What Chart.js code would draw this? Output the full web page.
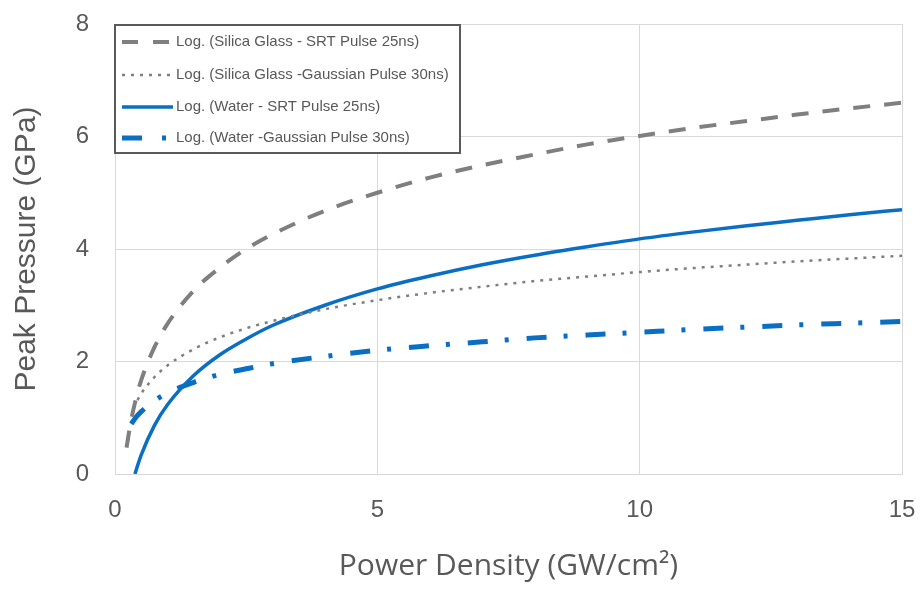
<!DOCTYPE html>
<html>
<head>
<meta charset="utf-8">
<script src="https://cdn.jsdelivr.net/npm/chart.js@4.4.1/dist/chart.umd.min.js"></script>
<style>
  html, body { margin: 0; padding: 0; background: #ffffff; }
  #wrap { width: 924px; height: 591px; position: relative; }
</style>
</head>
<body>
<div id="wrap"><canvas id="c" width="924" height="591"></canvas></div>
<script>
// ---- Data ----
const xTickValues = [0, 5, 10, 15];
const yTickValues = [0, 2, 4, 6, 8];

const seriesNames = [
  "Log. (Silica Glass - SRT Pulse 25ns)",
  "Log. (Silica Glass -Gaussian Pulse 30ns)",
  "Log. (Water - SRT Pulse 25ns)",
  "Log. (Water -Gaussian Pulse 30ns)"
];

const silicaSrtX = [0.22, 0.3, 0.4, 0.5, 0.75, 1, 1.5, 2, 2.5, 3, 4, 5, 6, 7, 8, 9, 10, 11, 12, 13, 14, 15];
const silicaSrtY = [0.47, 0.92, 1.34, 1.67, 2.25, 2.67, 3.26, 3.67, 4.00, 4.26, 4.68, 5.00, 5.27, 5.49, 5.68, 5.86, 6.01, 6.15, 6.27, 6.39, 6.50, 6.60];

const silicaGaussX = [0.35, 0.5, 0.75, 1, 1.5, 2, 2.5, 3, 4, 5, 6, 7, 8, 9, 10, 11, 12, 13, 14, 15];
const silicaGaussY = [1.17, 1.43, 1.72, 1.93, 2.22, 2.43, 2.59, 2.72, 2.93, 3.09, 3.22, 3.33, 3.43, 3.51, 3.59, 3.66, 3.72, 3.78, 3.83, 3.88];

const waterSrtX = [0.38, 0.4, 0.5, 0.75, 1, 1.5, 2, 2.5, 3, 4, 5, 6, 7, 8, 9, 10, 11, 12, 13, 14, 15];
const waterSrtY = [0.00, 0.06, 0.34, 0.86, 1.23, 1.75, 2.12, 2.40, 2.64, 3.00, 3.29, 3.52, 3.72, 3.89, 4.04, 4.18, 4.30, 4.41, 4.51, 4.61, 4.70];

const waterGaussX = [0.31, 0.4, 0.5, 0.75, 1, 1.5, 2, 2.5, 3, 4, 5, 6, 7, 8, 9, 10, 11, 12, 13, 14, 15];
const waterGaussY = [0.89, 1.01, 1.11, 1.30, 1.44, 1.63, 1.77, 1.87, 1.96, 2.09, 2.20, 2.28, 2.35, 2.42, 2.47, 2.52, 2.57, 2.61, 2.65, 2.68, 2.71];

// ---- Build points ----
function pts(xs, ys) { return xs.map((x, i) => ({ x: x, y: ys[i] })); }

const GRAY = '#7f7f7f';
const BLUE = '#0a6fc2';
const TXT = '#595959';

const datasets = [
  { label: seriesNames[0], data: pts(silicaSrtX, silicaSrtY), borderColor: GRAY, borderWidth: 4, borderDash: [17, 14], legendDash: [16, 15], legendWidth: 4 },
  { label: seriesNames[1], data: pts(silicaGaussX, silicaGaussY), borderColor: GRAY, borderWidth: 2.5, borderDash: [3, 6], legendDash: [3, 6], legendWidth: 2.5 },
  { label: seriesNames[2], data: pts(waterSrtX, waterSrtY), borderColor: BLUE, borderWidth: 3.5, borderDash: [], legendDash: [], legendWidth: 3.5 },
  { label: seriesNames[3], data: pts(waterGaussX, waterGaussY), borderColor: BLUE, borderWidth: 5, borderDash: [20, 17, 4, 18], legendDash: [20, 20, 4, 20], legendWidth: 5 }
].map(d => Object.assign(d, {
  showLine: true, pointRadius: 0, pointHoverRadius: 0, fill: false,
  cubicInterpolationMode: 'monotone', borderCapStyle: 'butt'
}));

const legendTextWidths = [247, 277, 209, 237];

const boxLegend = {
  id: 'boxLegend',
  afterDatasetsDraw(chart) {
    const ctx = chart.ctx;
    const bx = 115, by = 25, bw = 345, bh = 128;
    ctx.save();
    ctx.fillStyle = '#ffffff';
    ctx.fillRect(bx, by, bw, bh);
    ctx.strokeStyle = '#5a5a5a';
    ctx.lineWidth = 2;
    ctx.strokeRect(bx, by, bw, bh);
    const rows = [42, 75, 107, 138];
    chart.data.datasets.forEach((ds, i) => {
      const y = rows[i];
      ctx.beginPath();
      ctx.setLineDash(ds.legendDash);
      ctx.lineWidth = ds.legendWidth;
      ctx.strokeStyle = ds.borderColor;
      ctx.lineCap = 'butt';
      ctx.moveTo(122, y);
      ctx.lineTo(173, y);
      ctx.stroke();
      ctx.setLineDash([]);
      ctx.fillStyle = TXT;
      ctx.font = '15px "Liberation Sans", Arial, sans-serif';
      ctx.textBaseline = 'middle';
      ctx.textAlign = 'left';
      ctx.fillText(ds.label, 176, y, legendTextWidths[i]);
    });
    ctx.restore();
  }
};

new Chart(document.getElementById('c'), {
  type: 'scatter',
  data: { datasets: datasets },
  options: {
    responsive: false,
    animation: false,
    devicePixelRatio: 1,
    layout: { padding: { top: 24, right: 22, left: 0, bottom: 0 } },
    plugins: { legend: { display: false }, tooltip: { enabled: false } },
    scales: {
      x: {
        type: 'linear', min: 0, max: 15,
        afterBuildTicks(scale) { scale.ticks = xTickValues.map(v => ({ value: v })); },
        afterFit(scale) { scale.height = 591 - 474; scale.paddingLeft = 0; scale.paddingRight = 0; },
        grid: { color: '#d9d9d9', lineWidth: 1, drawTicks: false },
        border: { display: true, color: '#d9d9d9', width: 1 },
        ticks: { color: TXT, font: { family: '"Liberation Sans", Arial, sans-serif', size: 24 }, padding: 22, maxRotation: 0 },
        title: { display: true, text: 'Power Density (GW/cm²)', color: TXT,
                 font: { family: '"Open Sans", sans-serif', size: 30 }, padding: { top: 0, bottom: 7 } }
      },
      y: {
        type: 'linear', min: 0, max: 8,
        afterBuildTicks(scale) { scale.ticks = yTickValues.map(v => ({ value: v })); },
        afterFit(scale) { scale.width = 115; scale.paddingTop = 0; scale.paddingBottom = 0; },
        grid: { color: '#d9d9d9', lineWidth: 1, drawTicks: false },
        border: { display: true, color: '#d9d9d9', width: 1 },
        ticks: { color: TXT, font: { family: '"Liberation Sans", Arial, sans-serif', size: 24 }, padding: 26 },
        title: { display: true, text: 'Peak Pressure (GPa)', color: TXT,
                 font: { family: '"Liberation Sans", Arial, sans-serif', size: 30 }, padding: { top: 9, bottom: 0 } }
      }
    }
  },
  plugins: [boxLegend]
});
</script>
</body>
</html>
